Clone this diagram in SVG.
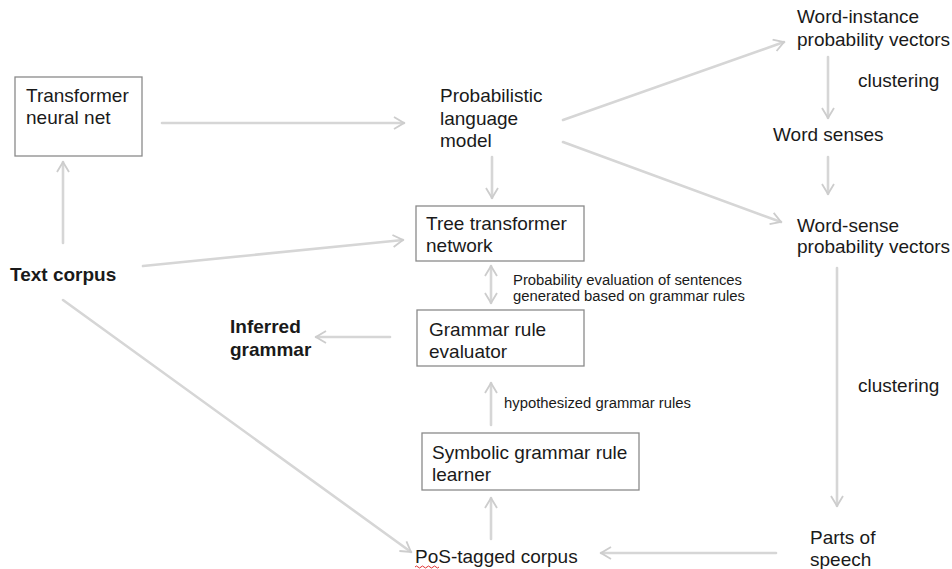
<svg xmlns="http://www.w3.org/2000/svg" width="952" height="569" viewBox="0 0 952 569">
<defs>
<style>
.t{font-family:"Liberation Sans",Arial,sans-serif;font-size:19px;fill:#1a1a1a}
.b{font-weight:bold}
.s{font-size:14px}
.box{fill:#fff;stroke:#8a8a8a;stroke-width:1.3}
.c{fill:none;stroke:#d6d6d6;stroke-width:2.6;stroke-linecap:round}
</style>
<marker id="ah" viewBox="0 0 12 14" refX="11" refY="7" markerWidth="12" markerHeight="14" markerUnits="userSpaceOnUse" orient="auto-start-reverse">
<path d="M1,1 L11,7 L1,13" fill="none" stroke="#cdcdcd" stroke-width="1.8"/>
</marker>
</defs>
<rect width="952" height="569" fill="#fff"/>
<g id="connectors">
<line class="c" x1="162" y1="123" x2="404" y2="123" marker-end="url(#ah)"/>
<line class="c" x1="63" y1="243" x2="63" y2="162" marker-end="url(#ah)"/>
<line class="c" x1="143" y1="266" x2="403" y2="240" marker-end="url(#ah)"/>
<line class="c" x1="563" y1="120" x2="784" y2="42" marker-end="url(#ah)"/>
<line class="c" x1="563" y1="142" x2="781" y2="222" marker-end="url(#ah)"/>
<line class="c" x1="492" y1="157" x2="492" y2="198" marker-end="url(#ah)"/>
<line class="c" x1="828" y1="57" x2="828" y2="118" marker-end="url(#ah)"/>
<line class="c" x1="828" y1="157" x2="828" y2="194" marker-end="url(#ah)"/>
<line class="c" x1="837" y1="268" x2="837" y2="506" marker-end="url(#ah)"/>
<line class="c" x1="491" y1="266" x2="491" y2="303" marker-start="url(#ah)" marker-end="url(#ah)"/>
<line class="c" x1="390" y1="337" x2="316" y2="337" marker-end="url(#ah)"/>
<line class="c" x1="491" y1="425" x2="491" y2="383" marker-end="url(#ah)"/>
<line class="c" x1="491" y1="539" x2="491" y2="498" marker-end="url(#ah)"/>
<line class="c" x1="63" y1="300" x2="411" y2="552" marker-end="url(#ah)"/>
<line class="c" x1="776" y1="553" x2="601" y2="553" marker-end="url(#ah)"/>
</g>
<g id="transformer">
<rect class="box" x="15" y="77" width="127" height="79"/>
<text class="t" x="26" y="102">Transformer</text>
<text class="t" x="26" y="124">neural net</text>
</g>
<g id="plm">
<text class="t" x="440" y="102">Probabilistic</text>
<text class="t" x="440" y="125">language</text>
<text class="t" x="440" y="147">model</text>
</g>
<g id="word-instance">
<text class="t" x="797" y="23">Word-instance</text>
<text class="t" x="797" y="46">probability vectors</text>
</g>
<g id="clustering1"><text class="t" x="858" y="87">clustering</text></g>
<g id="word-senses"><text class="t" x="773" y="141">Word senses</text></g>
<g id="word-sense">
<text class="t" x="797" y="232">Word-sense</text>
<text class="t" x="797" y="253">probability vectors</text>
</g>
<g id="text-corpus"><text class="t b" x="10" y="281">Text corpus</text></g>
<g id="tree-transformer">
<rect class="box" x="416" y="206" width="168" height="55"/>
<text class="t" x="426" y="230">Tree transformer</text>
<text class="t" x="426" y="252">network</text>
</g>
<g id="prob-eval-label">
<text class="t s" x="513" y="285" textLength="229" lengthAdjust="spacingAndGlyphs">Probability evaluation of sentences</text>
<text class="t s" x="513" y="301" textLength="232" lengthAdjust="spacingAndGlyphs">generated based on grammar rules</text>
</g>
<g id="grammar-evaluator">
<rect class="box" x="417" y="310" width="167" height="56"/>
<text class="t" x="429" y="336">Grammar rule</text>
<text class="t" x="429" y="358">evaluator</text>
</g>
<g id="inferred-grammar">
<text class="t b" x="230" y="333">Inferred</text>
<text class="t b" x="230" y="356">grammar</text>
</g>
<g id="hyp-label"><text class="t s" x="504" y="408" textLength="187" lengthAdjust="spacingAndGlyphs">hypothesized grammar rules</text></g>
<g id="symbolic-learner">
<rect class="box" x="422" y="433" width="217" height="57"/>
<text class="t" x="432" y="459">Symbolic grammar rule</text>
<text class="t" x="432" y="481">learner</text>
</g>
<g id="clustering2"><text class="t" x="858" y="392">clustering</text></g>
<g id="parts-of-speech">
<text class="t" x="810" y="544">Parts of</text>
<text class="t" x="810" y="566">speech</text>
</g>
<g id="pos-corpus">
<text class="t" x="415" y="563">PoS-tagged corpus</text>
<path d="M415,567 q1.5,-2 3,0 t3,0 t3,0 t3,0 t3,0 t3,0 t3,0 t3,0" fill="none" stroke="#e03030" stroke-width="1"/>
</g>
</svg>
